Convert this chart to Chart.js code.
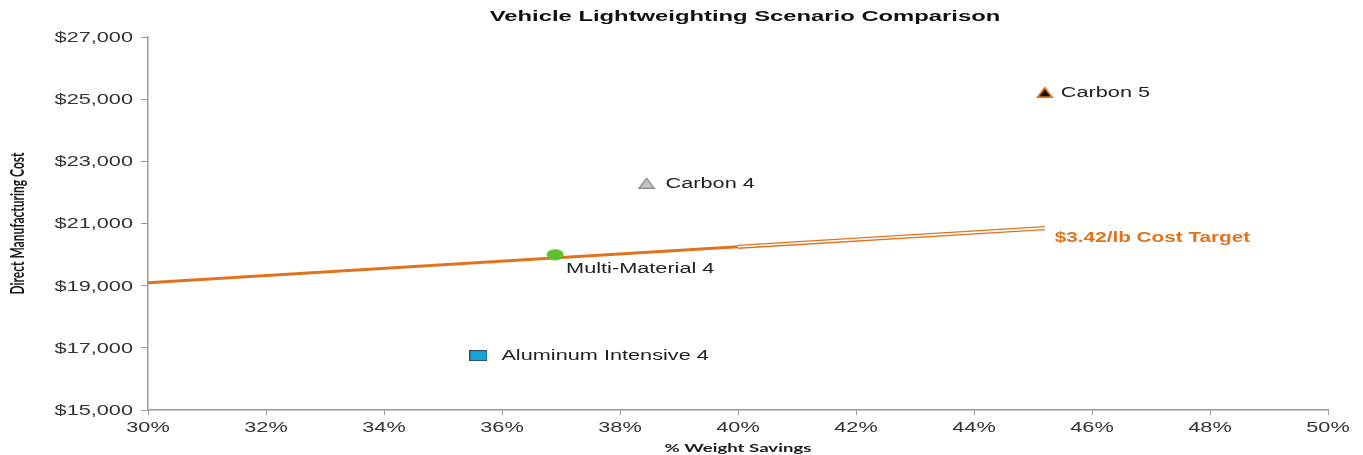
<!DOCTYPE html>
<html>
<head>
<meta charset="utf-8">
<title>Vehicle Lightweighting Scenario Comparison</title>
<script src="https://cdn.jsdelivr.net/npm/chart.js@4.4.1/dist/chart.umd.min.js"></script>
<style>
  html, body { margin: 0; padding: 0; background: #fff; }
  #wrap { width: 1363px; height: 455px; position: relative; }
</style>
</head>
<body>
<div id="wrap"><canvas id="chart"></canvas></div>
<script>
// Scenario points
const scenarios = ['Aluminum Intensive 4', 'Multi-Material 4', 'Carbon 4', 'Carbon 5'];
const weightSavings = [35.6, 36.9, 38.45, 45.2];
const costs = [16750, 20000, 22300, 25230];

// $3.42/lb cost target line (solid part, then extension)
const targetX = [30, 40];
const targetY = [19090, 20250];
const targetExtX = [40, 45.2];
const targetExtY = [20250, 20850];

const xTicks = [30, 32, 34, 36, 38, 40, 42, 44, 46, 48, 50];
const yTicks = [15000, 17000, 19000, 21000, 23000, 25000, 27000];

const ORANGE = '#E2731C';
const TEXT = '#222';
const SANS = '"Liberation Sans", Arial, sans-serif';
// the source image is stretched sideways, text and markers included
const STRETCH = 1.55;

function toPoints(xs, ys) {
    return xs.map((x, i) => ({ x: x, y: ys[i] }));
}

// stretched marker images, used as pointStyle
function marker(w, h, draw) {
    const c = document.createElement('canvas');
    c.width = w;
    c.height = h;
    draw(c.getContext('2d'), w, h);
    return c;
}

const squareMarker = marker(18, 11, (g, w, h) => {
    g.fillStyle = '#1AA3DA';
    g.fillRect(0.5, 0.5, w - 1, h - 1);
    g.strokeStyle = '#2A4A66';
    g.lineWidth = 1;
    g.strokeRect(0.5, 0.5, w - 1, h - 1);
});

const circleMarker = marker(18, 12, (g, w, h) => {
    g.fillStyle = '#5CC12E';
    g.beginPath();
    g.ellipse(w / 2, h / 2, w / 2 - 0.5, h / 2 - 0.5, 0, 0, Math.PI * 2);
    g.fill();
});

function triangleMarker(fill, stroke, lw) {
    return marker(18, 12, (g, w, h) => {
        g.beginPath();
        g.moveTo(w / 2, lw);
        g.lineTo(w - lw, h - lw / 2);
        g.lineTo(lw, h - lw / 2);
        g.closePath();
        g.fillStyle = fill;
        g.fill();
        g.strokeStyle = stroke;
        g.lineWidth = lw;
        g.lineJoin = 'miter';
        g.stroke();
    });
}

const markers = [
    squareMarker,
    circleMarker,
    triangleMarker('#C4C4C4', '#7d7d7d', 1.2),
    triangleMarker('#111111', ORANGE, 1.8)
];

function stretchText(ctx, text, x, y, align, sx) {
    ctx.save();
    ctx.translate(x, y);
    ctx.scale(sx, 1);
    ctx.textAlign = align;
    ctx.fillText(text, 0, 0);
    ctx.restore();
}

// label offsets from each marker [dx, dy]
const labelOffset = [[23, 1], [11, 15], [19, 1], [16, 1]];

const overlayPlugin = {
    id: 'overlay',
    afterDatasetsDraw(chart) {
        const ctx = chart.ctx;
        const xs = chart.scales.x;
        const ys = chart.scales.y;
        const area = chart.chartArea;
        ctx.save();
        ctx.textBaseline = 'middle';

        // tick labels
        ctx.font = '14px ' + SANS;
        ctx.fillStyle = '#333';
        ys.ticks.forEach(t => {
            stretchText(ctx, '$' + t.value.toLocaleString('en-US'), area.left - 15, ys.getPixelForValue(t.value) + 1, 'right', STRETCH);
        });
        xs.ticks.forEach(t => {
            stretchText(ctx, t.value + '%', xs.getPixelForValue(t.value), area.bottom + 18, 'center', STRETCH);
        });

        // scenario labels
        ctx.fillStyle = TEXT;
        chart.getDatasetMeta(0).data.forEach((pt, i) => {
            const off = labelOffset[i];
            stretchText(ctx, scenarios[i], pt.x + off[0], pt.y + off[1], 'left', STRETCH);
        });

        // cost target label at the end of the extension
        const ext = chart.getDatasetMeta(1).data;
        const end = ext[ext.length - 1];
        ctx.font = 'bold 14px ' + SANS;
        ctx.fillStyle = ORANGE;
        stretchText(ctx, '$3.42/lb Cost Target', end.x + 10, end.y + 10, 'left', 1.48);

        // chart title
        ctx.fillStyle = '#111';
        stretchText(ctx, 'Vehicle Lightweighting Scenario Comparison', 745, 17, 'center', 1.7);

        // axis titles
        ctx.font = 'bold 12px Lato, "Open Sans", sans-serif';
        ctx.fillStyle = '#1a1a1a';
        stretchText(ctx, '% Weight Savings', (area.left + area.right) / 2, 448, 'center', STRETCH);

        ctx.save();
        ctx.translate(18, (area.top + area.bottom) / 2);
        ctx.rotate(-Math.PI / 2);
        ctx.scale(1, STRETCH);
        ctx.textAlign = 'center';
        ctx.fillText('Direct Manufacturing Cost', 0, 0);
        ctx.restore();

        ctx.restore();
    }
};

const ctx = document.getElementById('chart').getContext('2d');
new Chart(ctx, {
    type: 'scatter',
    data: {
        datasets: [
            {
                label: 'Scenarios',
                data: toPoints(weightSavings, costs),
                pointStyle: markers,
                pointRadius: 8,
                order: 0
            },
            {
                label: 'Target extension inner',
                data: toPoints(targetExtX, targetExtY),
                showLine: true,
                borderColor: '#ffffff',
                borderWidth: 1.6,
                pointRadius: 0,
                order: 1
            },
            {
                label: 'Target extension',
                data: toPoints(targetExtX, targetExtY),
                showLine: true,
                borderColor: ORANGE,
                borderWidth: 4.2,
                pointRadius: 0,
                order: 2
            },
            {
                label: 'Cost target',
                data: toPoints(targetX, targetY),
                showLine: true,
                borderColor: ORANGE,
                borderWidth: 3,
                pointRadius: 0,
                order: 3
            }
        ]
    },
    options: {
        responsive: true,
        maintainAspectRatio: false,
        animation: false,
        layout: { padding: { top: 37, right: 35, left: 0, bottom: 0 } },
        plugins: {
            legend: { display: false },
            title: { display: false },
            tooltip: { enabled: false }
        },
        scales: {
            x: {
                type: 'linear',
                min: 30,
                max: 50,
                afterBuildTicks: (axis) => { axis.ticks = xTicks.map(v => ({ value: v })); },
                afterFit: (axis) => { axis.height = 45; },
                border: { color: '#9a9a9a', width: 1.5 },
                grid: { drawOnChartArea: false, drawTicks: true, tickLength: 5, color: '#9a9a9a' },
                ticks: { display: false }
            },
            y: {
                min: 15000,
                max: 27000,
                afterBuildTicks: (axis) => { axis.ticks = yTicks.map(v => ({ value: v })); },
                afterFit: (axis) => { axis.width = 148; },
                border: { color: '#9a9a9a', width: 1.5 },
                grid: { drawOnChartArea: false, drawTicks: true, tickLength: 7, color: '#9a9a9a' },
                ticks: { display: false }
            }
        }
    },
    plugins: [overlayPlugin]
});
</script>
</body>
</html>
